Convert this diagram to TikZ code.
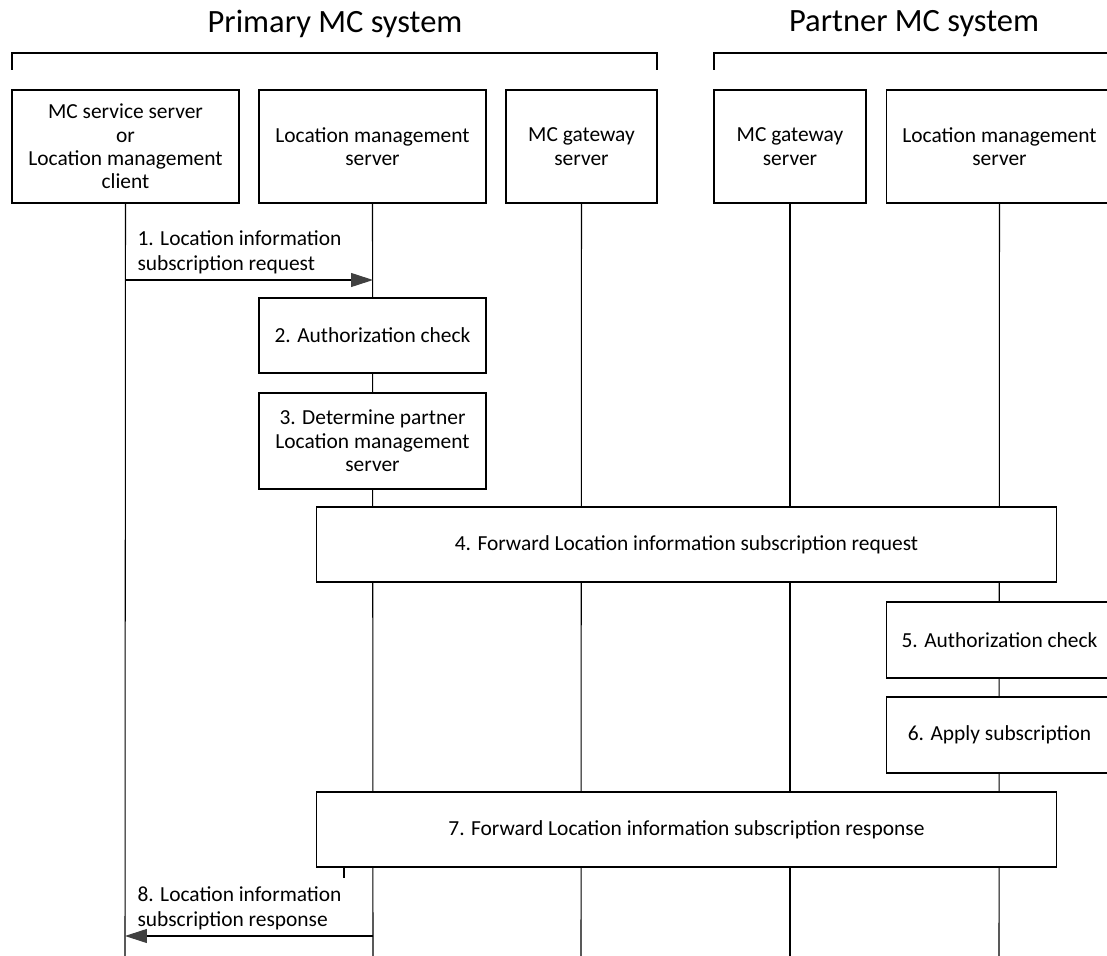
\documentclass[tikz,border=0pt]{standalone}
\usepackage{fontspec}
\setmainfont{Carlito}
\usetikzlibrary{arrows.meta}

\tikzset{
  entity/.style={draw, fill=white, align=center, inner sep=0pt, line width=0.6pt,
    font=\fontsize{12.2}{13.3}\selectfont},
  stepbox/.style={entity, minimum height=1.5cm},
  msg/.style={line width=0.6pt, -{Triangle[length=4.4mm, width=2.8mm, fill=black!75, color=black!75]}},
  msglabel/.style={anchor=west, align=left, inner sep=0pt, font=\fontsize{12.2}{14.1}\selectfont},
  bracket/.style={line width=1.3pt},
}

\begin{document}
\begin{tikzpicture}[x=0.02cm, y=-0.02cm, line width=0.6pt]
        \clip (0,0) rectangle (1107,956);

        % System titles and brackets
        \node[font=\fontsize{18.5}{22}\selectfont] (primary) at (335,24) {Primary MC system};
        \node[font=\fontsize{18.5}{22}\selectfont] (partner) at (914,24) {Partner MC system};
        \draw[bracket] (12,70) -- (12,53) -- (657,53) -- (657,70);
        \draw[bracket] (714,70) -- (714,53) -- (1120,53);

        % Entities
        \node[entity, minimum width=4.54cm, minimum height=2.26cm] (client) at (125.5,146.5)
          {MC service server\\or\\Location management\\client};
        \node[entity, minimum width=4.54cm, minimum height=2.26cm] (lms_p) at (372.5,146.5)
          {Location management\\server};
        \node[entity, minimum width=3.02cm, minimum height=2.26cm] (gw_p) at (581.5,146.5)
          {MC gateway\\server};
        \node[entity, minimum width=3.04cm, minimum height=2.26cm] (gw_q) at (790,146.5)
          {MC gateway\\server};
        \node[entity, minimum width=4.54cm, minimum height=2.26cm] (lms_q) at (999.5,146.5)
          {Location management\\server};

        % Lifeline ends
        \coordinate (client_end) at (125,956);
        \coordinate (lms_p_end) at (373,956);
        \coordinate (gw_p_end) at (581,956);
        \coordinate (gw_q_end) at (790,956);
        \coordinate (lms_q_end) at (999,956);

        \draw (client.south) -- (client_end);
        \draw (lms_p.south) -- (lms_p_end);
        \draw (gw_p.south) -- (gw_p_end);
        \draw (gw_q.south) -- (gw_q_end);
        \draw (lms_q.south) -- (lms_q_end);

        % Steps
        \node[stepbox, minimum width=4.54cm] (check_p) at (372.5,335.5) {2. Authorization check};
        \node[stepbox, minimum width=4.54cm, minimum height=1.92cm] (determine) at (372.5,441)
          {3. Determine partner\\Location management\\server};
        \node[stepbox, minimum width=14.82cm] (forward_req) at (686.5,544.5)
          {4. Forward Location information subscription request};
        \node[stepbox, minimum width=4.54cm, minimum height=1.52cm] (check_q) at (999.5,640)
          {5. Authorization check};
        \node[stepbox, minimum width=4.54cm, minimum height=1.52cm] (apply) at (999.5,735)
          {6. Apply subscription};
        \node[stepbox, minimum width=14.82cm] (forward_resp) at (686.5,829.5)
          {7. Forward Location information subscription response};

        % Small tick under step 7
        \coordinate (tick_end) at (344,878);
        \draw (forward_resp.south -| tick_end) -- (tick_end);

        % Messages
        \coordinate (req_from) at (125,280);
        \coordinate (req_to) at (373,280);
        \draw[msg] (req_from) -- (req_to);
        \node[msglabel] (req_label) at (137,252) {1. Location information\\subscription request};

        \coordinate (resp_from) at (373,936);
        \coordinate (resp_to) at (125,936);
        \draw[msg] (resp_from) -- (resp_to);
        \node[msglabel] (resp_label) at (137,908) {8. Location information\\subscription response};
      \end{tikzpicture}
\end{document}
